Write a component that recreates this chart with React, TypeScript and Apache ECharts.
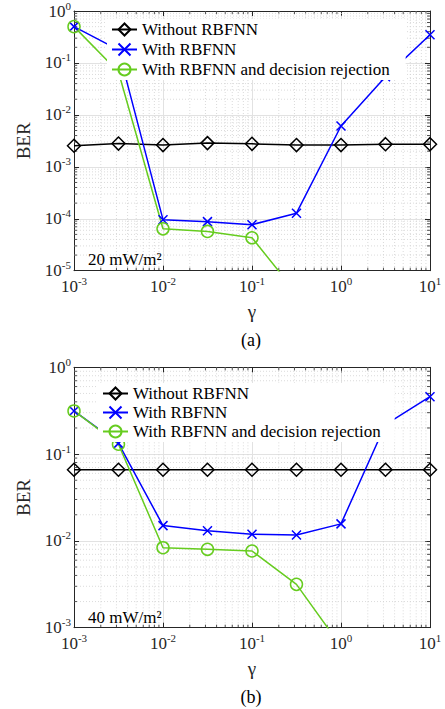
import React, { useEffect, useRef } from 'react';
import * as echarts from 'echarts';

// x values (gamma)
const gamma = [0.001, 0.00316, 0.01, 0.0316, 0.1, 0.316, 1, 3.16, 10];
const seriesNames = ['Without RBFNN', 'With RBFNN', 'With RBFNN and decision rejection'];

// (a) 20 mW/m^2
const berWithoutA = [2.55e-3, 2.8e-3, 2.62e-3, 2.86e-3, 2.77e-3, 2.62e-3, 2.62e-3, 2.73e-3, 2.73e-3];
const berRbfA = [0.5, 0.178, 9.6e-5, 8.8e-5, 7.7e-5, 1.28e-4, 6.1e-3, 0.054, 0.35];
const berRejA = [0.5, 0.067, 6.4e-5, 5.7e-5, 4.3e-5, 3.7e-6];

// (b) 40 mW/m^2
const berWithoutB = [0.066, 0.066, 0.066, 0.066, 0.066, 0.066, 0.066, 0.066, 0.066];
const berRbfB = [0.314, 0.133, 0.015, 0.0131, 0.0119, 0.0117, 0.0157, 0.219, 0.458];
const berRejB = [0.314, 0.13, 8.35e-3, 8.0e-3, 7.65e-3, 3.16e-3, 6.1e-4];

// tick decades
const xDecades = [1e-3, 1e-2, 1e-1, 1, 10];
const yDecadesA = [1e-5, 1e-4, 1e-3, 1e-2, 1e-1, 1];
const yDecadesB = [1e-3, 1e-2, 1e-1, 1];

const panelNotes = ['20 mW/m²', '40 mW/m²'];
const panelTags = ['(a)', '(b)'];

const FONT = 'Liberation Serif, Times New Roman, serif';
const AXIS_COLOR = '#262626';

function minorValues(decades: number[]) {
  const out: number[] = [];
  for (let i = 0; i < decades.length - 1; i++) {
    for (let m = 2; m <= 9; m++) out.push(decades[i] * m);
  }
  return out;
}

const powLabel = (v: number) => {
  const e = Math.round(Math.log10(v));
  return `{b|10}{s|${e}}`;
};

const labelRich = {
  b: { fontSize: 17, fontFamily: FONT, color: AXIS_COLOR, lineHeight: 22, verticalAlign: 'middle' },
  s: { fontSize: 11, fontFamily: FONT, color: AXIS_COLOR, lineHeight: 22, verticalAlign: 'top' },
};

export default function App() {
  const ref = useRef<HTMLDivElement>(null);

  useEffect(() => {
    if (!ref.current) return;
    const chart = echarts.init(ref.current, undefined, { renderer: 'svg' });

    const grids = [
      { left: 74, top: 9.5, width: 356, height: 261.2 },
      { left: 74, top: 367.3, width: 356, height: 260.4 },
    ];
    const yRanges = [
      { min: 1e-5, max: 1, decades: yDecadesA },
      { min: 1e-3, max: 1, decades: yDecadesB },
    ];

    const xAxes: any[] = [];
    const yAxes: any[] = [];
    [0, 1].forEach((g) => {
      xAxes.push({
        type: 'log', logBase: 10, gridIndex: g, min: 1e-3, max: 10, position: 'bottom',
        axisLine: { show: true, onZero: false, lineStyle: { color: AXIS_COLOR, width: 1 } },
        axisTick: { show: true, inside: true, length: 5, lineStyle: { color: AXIS_COLOR } },
        axisLabel: { formatter: powLabel, rich: labelRich, margin: 5 },
        splitLine: { show: true, lineStyle: { color: '#e2e2e2', width: 1 } },
        name: 'γ', nameLocation: 'middle', nameGap: 31,
        nameTextStyle: { fontFamily: FONT, fontSize: 19, color: AXIS_COLOR },
      });
      xAxes.push({
        type: 'log', logBase: 10, gridIndex: g, min: 1e-3, max: 10, position: 'top',
        axisLine: { show: true, onZero: false, lineStyle: { color: AXIS_COLOR, width: 1 } },
        axisTick: { show: true, inside: true, length: 5, lineStyle: { color: AXIS_COLOR } },
        axisLabel: { show: false }, splitLine: { show: false },
      });
      yAxes.push({
        type: 'log', logBase: 10, gridIndex: g, min: yRanges[g].min, max: yRanges[g].max, position: 'left',
        axisLine: { show: true, onZero: false, lineStyle: { color: AXIS_COLOR, width: 1 } },
        axisTick: { show: true, inside: true, length: 5, lineStyle: { color: AXIS_COLOR } },
        axisLabel: { formatter: powLabel, rich: labelRich, margin: 3 },
        splitLine: { show: true, lineStyle: { color: '#e2e2e2', width: 1 } },
        name: 'BER', nameLocation: 'middle', nameGap: 41,
        nameTextStyle: { fontFamily: FONT, fontSize: 19, color: AXIS_COLOR },
      });
      yAxes.push({
        type: 'log', logBase: 10, gridIndex: g, min: yRanges[g].min, max: yRanges[g].max, position: 'right',
        axisLine: { show: true, onZero: false, lineStyle: { color: AXIS_COLOR, width: 1 } },
        axisTick: { show: true, inside: true, length: 5, lineStyle: { color: AXIS_COLOR } },
        axisLabel: { show: false }, splitLine: { show: false },
      });
    });

    const sets = [
      [berWithoutA, berRbfA, berRejA],
      [berWithoutB, berRbfB, berRejB],
    ];
    const styles = [
      { symbol: 'diamond', size: 13, color: '#000000' },
      { symbol: 'path://M0,0L10,10M10,0L0,10', size: 9, color: '#0000ff' },
      { symbol: 'circle', size: 12, color: '#66cc1f' },
    ];

    const series: any[] = [];
    [0, 1].forEach((g) => {
      const xMinor = minorValues(xDecades);
      const yMinor = minorValues(yRanges[g].decades);
      const gridData: any[] = [];
      xMinor.forEach((v) => gridData.push([v, yRanges[g].min, 0]));
      yMinor.forEach((v) => gridData.push([1e-3, v, 1]));
      series.push({
        type: 'custom', name: 'minor' + g, xAxisIndex: g * 2, yAxisIndex: g * 2,
        silent: true, z: 1, data: gridData, encode: { x: 0, y: 1 },
        renderItem: (params: any, api: any) => {
          const cs = params.coordSys;
          const kind = api.value(2);
          const p = api.coord([api.value(0), api.value(1)]);
          const dot = { stroke: '#d2d2d2', lineWidth: 0.8, lineDash: [1, 2] };
          const tick = { stroke: AXIS_COLOR, lineWidth: 0.8 };
          if (kind === 0) {
            const x = p[0];
            return {
              type: 'group', children: [
                { type: 'line', shape: { x1: x, y1: cs.y, x2: x, y2: cs.y + cs.height }, style: dot },
                { type: 'line', shape: { x1: x, y1: cs.y + cs.height, x2: x, y2: cs.y + cs.height - 3 }, style: tick },
                { type: 'line', shape: { x1: x, y1: cs.y, x2: x, y2: cs.y + 3 }, style: tick },
              ],
            };
          }
          const y = p[1];
          return {
            type: 'group', children: [
              { type: 'line', shape: { x1: cs.x, y1: y, x2: cs.x + cs.width, y2: y }, style: dot },
              { type: 'line', shape: { x1: cs.x, y1: y, x2: cs.x + 3, y2: y }, style: tick },
              { type: 'line', shape: { x1: cs.x + cs.width, y1: y, x2: cs.x + cs.width - 3, y2: y }, style: tick },
            ],
          };
        },
      });
      sets[g].forEach((vals, k) => {
        const st = styles[k];
        series.push({
          type: 'line', name: seriesNames[k], xAxisIndex: g * 2, yAxisIndex: g * 2,
          data: vals.map((v, i) => [gamma[i], v]),
          symbol: st.symbol, symbolSize: st.size, showAllSymbol: true, clip: true, z: 2,
          lineStyle: { color: st.color, width: 1.5 },
          itemStyle: { color: 'rgba(0,0,0,0)', borderColor: st.color, borderWidth: 1.5 },
          emphasis: { disabled: true },
        });
      });
    });

    const legendBase = {
      orient: 'vertical', backgroundColor: '#ffffff',
      itemWidth: 25, itemHeight: 15, selectedMode: false, z: 20,
      textStyle: { fontFamily: FONT, fontSize: 17, color: '#000', lineHeight: 17 },
      data: seriesNames,
    };

    const graphics: any[] = [];
    const noteTops = [251, 609];
    const tagYs = [340, 697];
    [0, 1].forEach((g) => {
      graphics.push({
        type: 'text', x: 88, y: noteTops[g], z: 10,
        style: { text: panelNotes[g], font: `17px ${FONT}`, fill: '#000', align: 'left', verticalAlign: 'top' },
      });
      graphics.push({
        type: 'text', x: 251, y: tagYs[g], z: 10,
        style: { text: panelTags[g], font: `18px ${FONT}`, fill: '#000', align: 'center', verticalAlign: 'middle' },
      });
    });

    chart.setOption({
      animation: false,
      backgroundColor: '#ffffff',
      grid: grids,
      xAxis: xAxes,
      yAxis: yAxes,
      legend: [
        { ...legendBase, left: 107, top: 19, itemGap: 3, padding: [2, 16, 2, 4] },
        { ...legendBase, left: 98, top: 383, itemGap: 2, padding: [2, 14, 2, 4] },
      ],
      graphic: graphics,
      series,
    });

    return () => chart.dispose();
  }, []);

  return (
    <div
      ref={ref}
      style={{ position: 'fixed', left: 0, top: 0, width: 445, height: 709, background: '#fff' }}
    />
  );
}
